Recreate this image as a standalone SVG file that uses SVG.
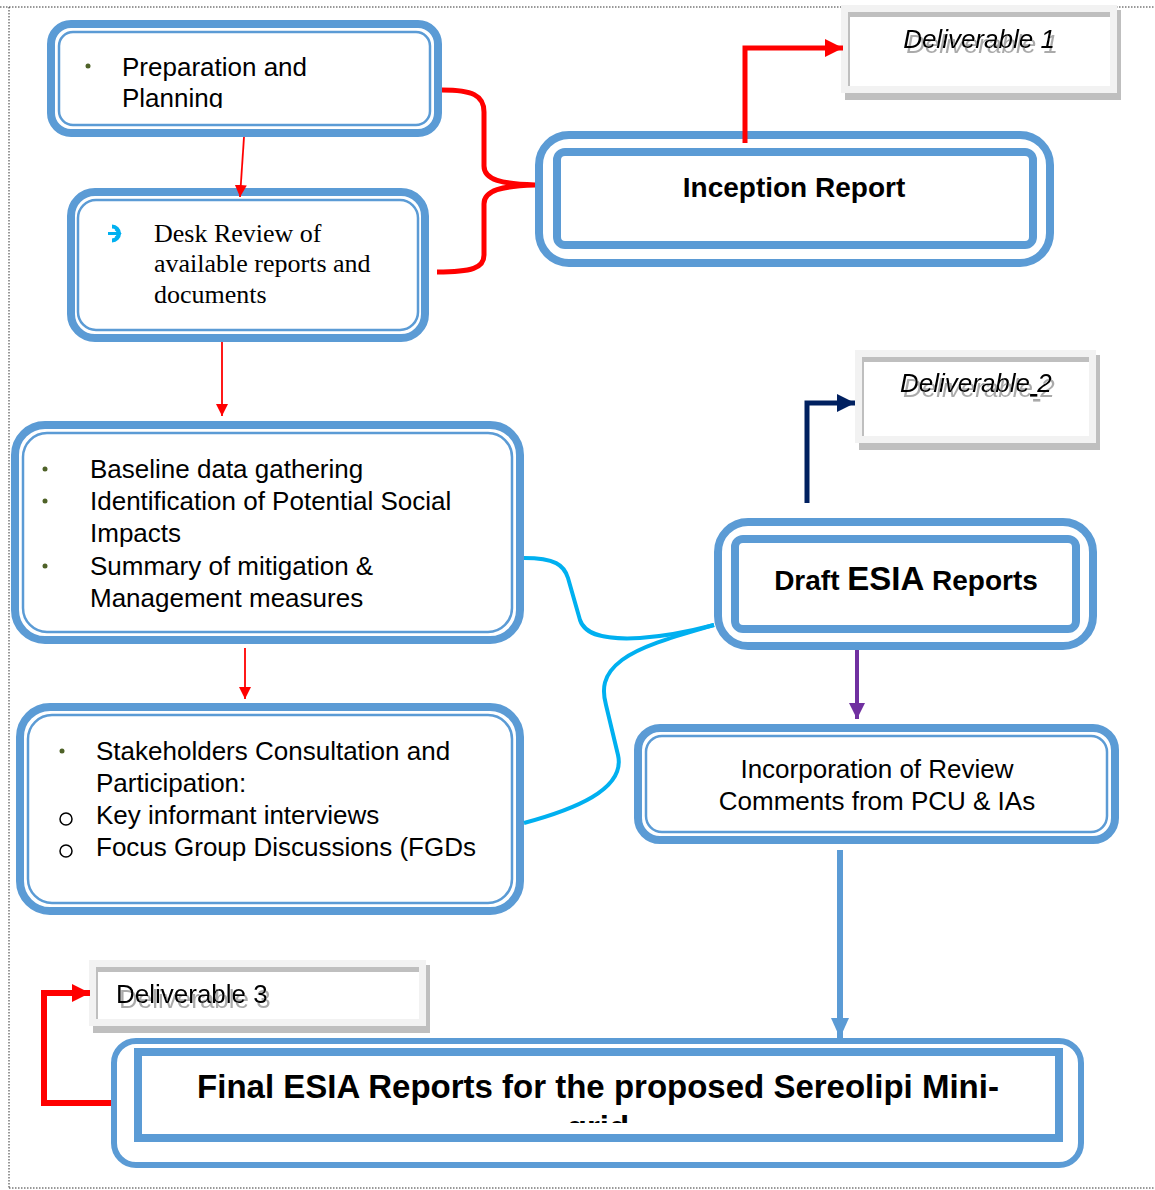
<svg xmlns="http://www.w3.org/2000/svg" width="1155" height="1190" viewBox="0 0 1155 1190">
<style>
.bg{fill:#fff}
.ob{fill:#fff;stroke:#5b9bd5;stroke-width:8}
.ib{fill:none;stroke:#5b9bd5;stroke-width:2.5}
.it{fill:none;stroke:#5b9bd5;stroke-width:8}
.t{font-family:"Liberation Sans",Arial,sans-serif;font-size:26px;fill:#000}
.s{font-family:"Liberation Serif","Times New Roman",serif;font-size:26px;fill:#000}
.b{font-family:"Liberation Sans",Arial,sans-serif;font-weight:bold;fill:#000}
.dl{font-family:"Liberation Sans",Arial,sans-serif;font-size:26px;font-style:italic;fill:#000}
.dot{fill:#4f6228}
.dotted{stroke:#333;stroke-width:1;stroke-dasharray:1.5 1.5;fill:none}
.ds{fill:#bfbfbf}
.dlo{fill:#f2f2f2}
</style>
<defs>
<filter id="tshadow" x="-10%" y="-20%" width="130%" height="160%">
<feFlood flood-color="#aaaaaa" result="c"/>
<feComposite in="c" in2="SourceAlpha" operator="in" result="s"/>
<feOffset in="s" dx="3" dy="5" result="o"/>
<feMerge><feMergeNode in="o"/><feMergeNode in="SourceGraphic"/></feMerge>
</filter>
<marker id="arR" markerUnits="userSpaceOnUse" markerWidth="14" markerHeight="14" refX="12" refY="7" orient="auto"><path d="M0,1 L12,7 L0,13 Z" fill="#ff0000"/></marker>
<marker id="arRB" markerUnits="userSpaceOnUse" markerWidth="20" markerHeight="20" refX="18" refY="10" orient="auto"><path d="M0,1 L18,10 L0,19 Z" fill="#ff0000"/></marker>
<marker id="arN" markerUnits="userSpaceOnUse" markerWidth="20" markerHeight="20" refX="18" refY="10" orient="auto"><path d="M0,1 L18,10 L0,19 Z" fill="#002060"/></marker>
<marker id="arP" markerUnits="userSpaceOnUse" markerWidth="18" markerHeight="18" refX="16" refY="9" orient="auto"><path d="M0,1 L16,9 L0,17 Z" fill="#7030a0"/></marker>
<marker id="arB" markerUnits="userSpaceOnUse" markerWidth="22" markerHeight="22" refX="20" refY="11" orient="auto"><path d="M0,2 L20,11 L0,20 Z" fill="#5b9bd5"/></marker>
<clipPath id="clipPrep"><rect x="60" y="30" width="370" height="78"/></clipPath>
<clipPath id="clipFinal"><rect x="140" y="1056" width="916" height="67"/></clipPath>
</defs>
<rect class="bg" x="0" y="0" width="1155" height="1190"/>

<g id="frame">
<line class="dotted" x1="0" y1="7" x2="1155" y2="7"/>
<line class="dotted" x1="9" y1="7" x2="9" y2="1188"/>
<line class="dotted" x1="9" y1="1188" x2="1155" y2="1188"/>
</g>

<g id="n-preparation">
<rect class="ob" x="51" y="24" width="387" height="109" rx="20"/>
<rect class="ib" x="59" y="32" width="371" height="93" rx="14"/>
<circle class="dot" cx="88" cy="66" r="2.5"/>
<g clip-path="url(#clipPrep)">
<text class="t" x="122" y="76">Preparation and</text>
<text class="t" x="122" y="107">Planning</text>
</g>
</g>

<g id="n-deskreview">
<rect class="ob" x="71" y="192" width="354" height="146" rx="24"/>
<rect class="ib" x="78" y="200" width="340" height="130" rx="18"/>
<g fill="none" stroke="#00b0f0">
<path d="M112,226.5 A7,7 0 1 1 112,240.5" stroke-width="4"/>
<path d="M108,233.5 L119,233.5" stroke-width="3"/>
<path d="M115.5,229.5 L120,233.5 L115.5,237.5" stroke-width="2.2"/>
</g>
<text class="s" x="154" y="242">Desk Review of</text>
<text class="s" x="154" y="272">available reports and</text>
<text class="s" x="154" y="303">documents</text>
</g>

<g id="n-inception">
<rect class="ob" x="539" y="135" width="511" height="128" rx="30"/>
<rect class="it" x="557" y="152" width="476" height="93" rx="8"/>
<text class="b" x="794" y="197" font-size="28" text-anchor="middle">Inception Report</text>
</g>

<g id="n-deliverable1" transform="translate(841,5)">
<rect class="ds" x="4" y="5" width="276" height="90"/>
<rect class="dlo" x="0" y="0" width="276" height="88"/>
<rect fill="#fff" x="7" y="7" width="262" height="74"/>
<rect class="ds" x="7" y="7" width="262" height="5"/>
<rect class="ds" x="7" y="7" width="2" height="74"/>
<text class="dl" x="138" y="43" text-anchor="middle" filter="url(#tshadow)">Deliverable 1</text>
</g>

<g id="n-deliverable2" transform="translate(855,350)">
<rect class="ds" x="4" y="5" width="241" height="95"/>
<rect class="dlo" x="0" y="0" width="241" height="93"/>
<rect fill="#fff" x="7" y="7" width="227" height="79"/>
<rect class="ds" x="7" y="7" width="227" height="5"/>
<rect class="ds" x="7" y="7" width="2" height="79"/>
<text class="dl" x="45" y="42" filter="url(#tshadow)">Deliverable<tspan text-decoration="underline"> </tspan>2</text>
</g>

<g id="n-deliverable3" transform="translate(89,960)">
<rect class="ds" x="4" y="5" width="337" height="68"/>
<rect class="dlo" x="0" y="0" width="337" height="66"/>
<rect fill="#fff" x="7" y="7" width="323" height="52"/>
<rect class="ds" x="7" y="7" width="323" height="5"/>
<rect class="ds" x="7" y="7" width="2" height="52"/>
<text class="t" x="27" y="43" filter="url(#tshadow)">Deliverable 3</text>
</g>

<g id="n-baseline">
<rect class="ob" x="15" y="425" width="505" height="215" rx="30"/>
<rect class="ib" x="23" y="433" width="489" height="199" rx="24"/>
<circle class="dot" cx="45" cy="469" r="2.5"/>
<circle class="dot" cx="45" cy="501" r="2.5"/>
<circle class="dot" cx="45" cy="566" r="2.5"/>
<text class="t" x="90" y="478">Baseline data gathering</text>
<text class="t" x="90" y="510">Identification of Potential Social</text>
<text class="t" x="90" y="542">Impacts</text>
<text class="t" x="90" y="575">Summary of mitigation &amp;</text>
<text class="t" x="90" y="607">Management measures</text>
</g>

<g id="n-stakeholders">
<rect class="ob" x="20" y="707" width="500" height="204" rx="30"/>
<rect class="ib" x="28" y="715" width="484" height="188" rx="24"/>
<circle class="dot" cx="62" cy="751" r="2.5"/>
<circle cx="66" cy="819" r="6" fill="none" stroke="#000" stroke-width="1.5"/>
<circle cx="66" cy="851" r="6" fill="none" stroke="#000" stroke-width="1.5"/>
<text class="t" x="96" y="760">Stakeholders Consultation and</text>
<text class="t" x="96" y="792">Participation:</text>
<text class="t" x="96" y="824">Key informant interviews</text>
<text class="t" x="96" y="856">Focus Group Discussions (FGDs</text>
</g>

<g id="n-draft">
<rect class="ob" x="718" y="522" width="375" height="124" rx="30"/>
<rect class="it" x="735" y="539" width="341" height="90" rx="8"/>
<text class="b" x="906" y="590" font-size="28" text-anchor="middle">Draft <tspan font-size="33">ESIA</tspan> Reports</text>
</g>

<g id="n-incorporation">
<rect class="ob" x="638" y="728" width="477" height="112" rx="22"/>
<rect class="ib" x="646" y="736" width="461" height="96" rx="16"/>
<text class="t" x="877" y="778" text-anchor="middle">Incorporation of Review</text>
<text class="t" x="877" y="810" text-anchor="middle">Comments from PCU &amp; IAs</text>
</g>

<g id="n-final">
<rect class="ob" x="114" y="1041" width="967" height="124" rx="22" style="stroke-width:6"/>
<rect class="it" x="138" y="1052" width="921" height="86"/>
<g clip-path="url(#clipFinal)">
<text class="b" x="598" y="1098" font-size="33" text-anchor="middle">Final ESIA Reports for the proposed Sereolipi Mini-</text>
<text class="b" x="598" y="1139" font-size="33" text-anchor="middle">grid</text>
</g>
</g>

<g id="connectors">
<line x1="244" y1="137" x2="240" y2="197" stroke="#ff0000" stroke-width="1.8" marker-end="url(#arR)"/>
<line x1="222" y1="342" x2="222" y2="416" stroke="#ff0000" stroke-width="1.8" marker-end="url(#arR)"/>
<line x1="245" y1="648" x2="245" y2="699" stroke="#ff0000" stroke-width="1.8" marker-end="url(#arR)"/>
<path d="M442,90 C472,90 484,95 484,112 L484,166 C484,180 502,184 535,185 C502,186 484,190 484,204 L484,255 C484,268 472,272 437,272" fill="none" stroke="#ff0000" stroke-width="5"/>
<path d="M745,143 L745,48 L843,48" fill="none" stroke="#ff0000" stroke-width="5" marker-end="url(#arRB)"/>
<path d="M807,503 L807,403 L855,403" fill="none" stroke="#002060" stroke-width="5" marker-end="url(#arN)"/>
<line x1="857" y1="650" x2="857" y2="719" stroke="#7030a0" stroke-width="4" marker-end="url(#arP)"/>
<line x1="840" y1="850" x2="840" y2="1038" stroke="#5b9bd5" stroke-width="6" marker-end="url(#arB)"/>
<path d="M111,1103 L44,1103 L44,993 L90,993" fill="none" stroke="#ff0000" stroke-width="6" marker-end="url(#arRB)"/>
<path d="M524,558 C555,558 564,565 568,578 L580,620 C585,635 605,640 640,638 C670,636 695,630 714,625" fill="none" stroke="#00b0f0" stroke-width="4"/>
<path d="M714,625 C680,635 642,645 622,660 C602,675 602,690 606,705 L618,755 C626,790 572,810 524,823" fill="none" stroke="#00b0f0" stroke-width="4"/>
</g>
</svg>
